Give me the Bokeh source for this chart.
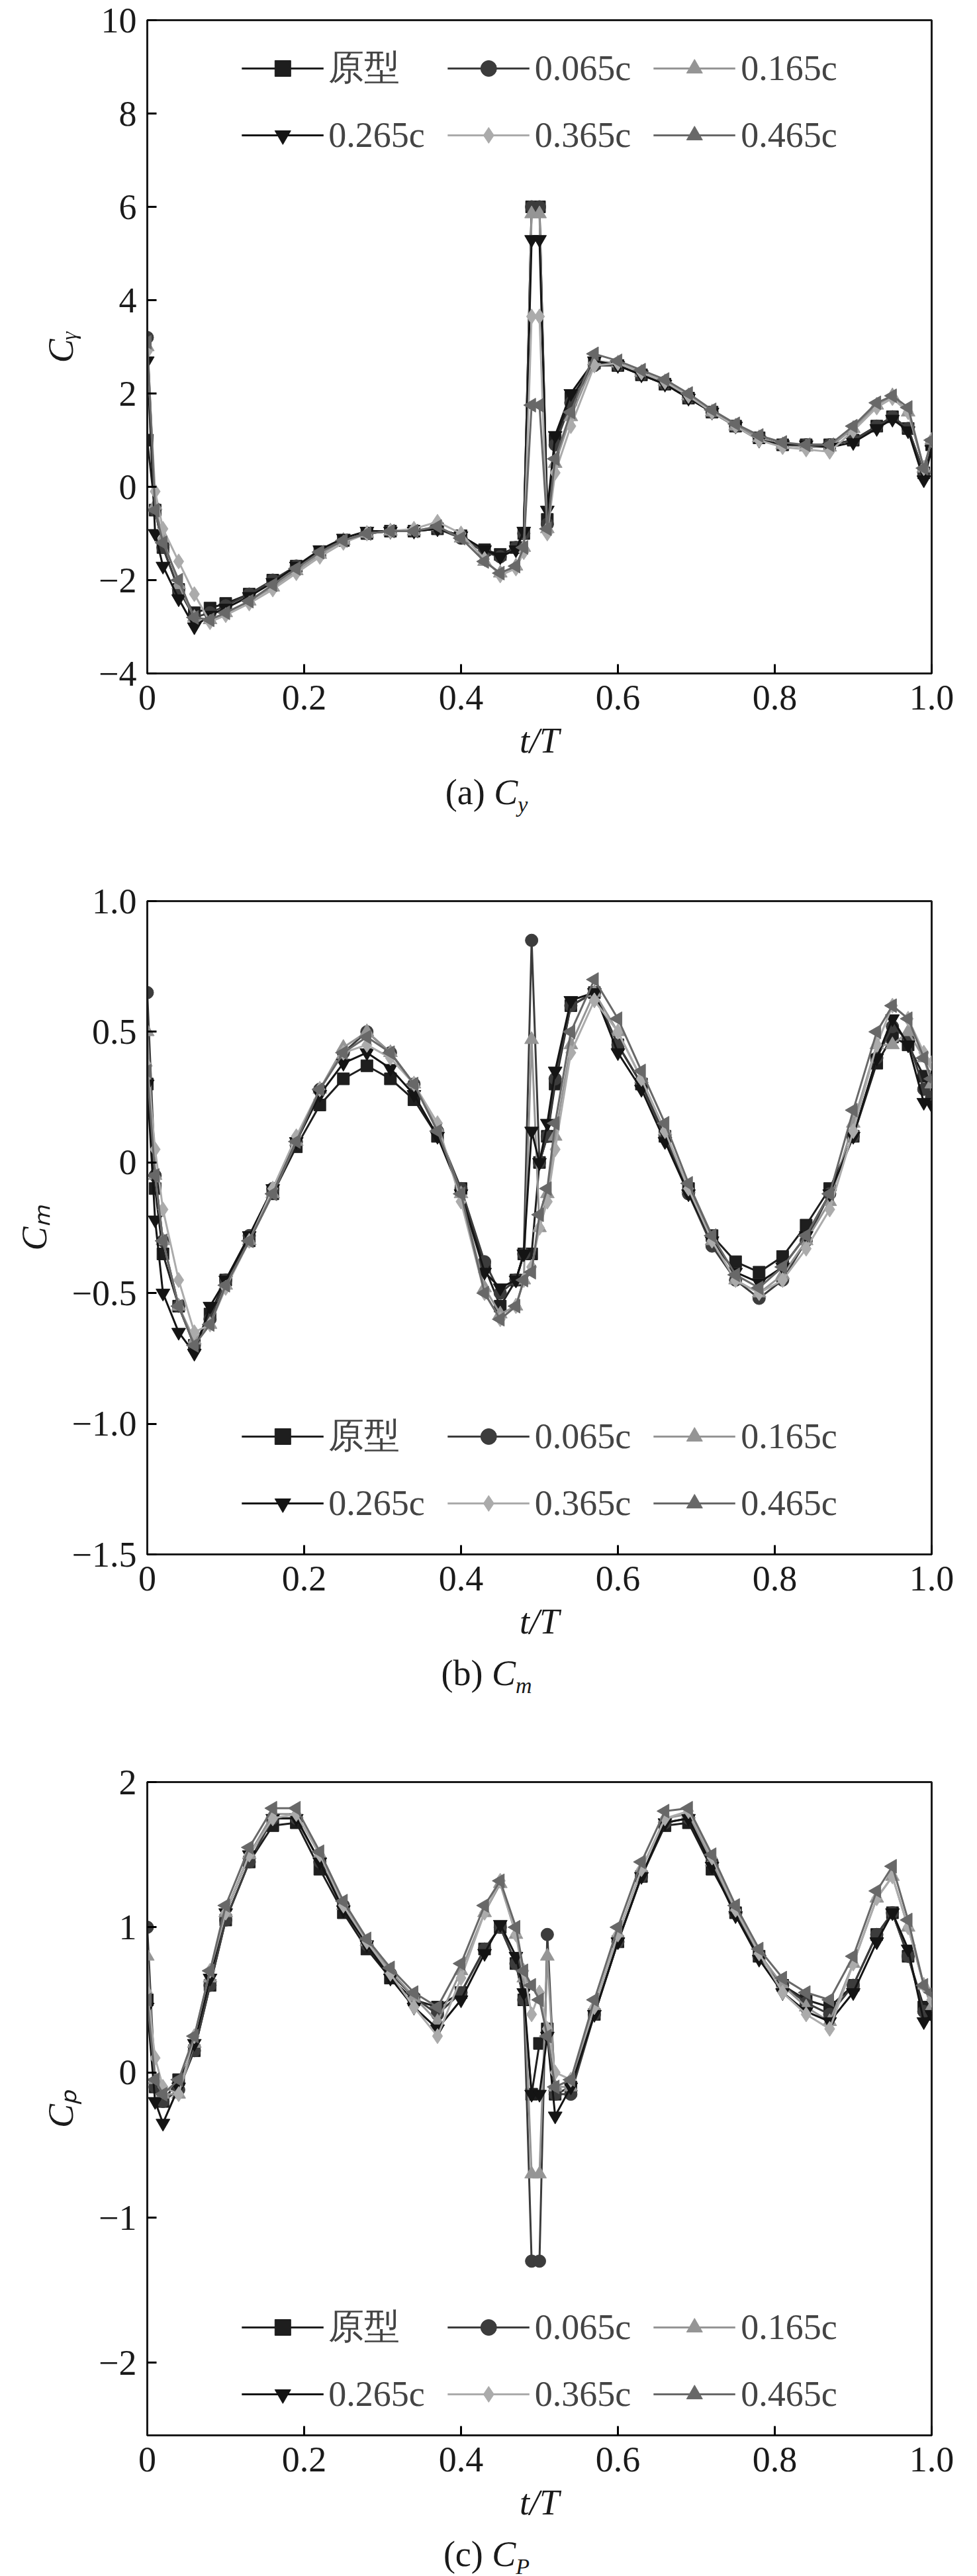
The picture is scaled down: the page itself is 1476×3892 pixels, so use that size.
from math import pi
from bokeh.plotting import figure
from bokeh.layouts import column, Spacer
from bokeh.models import FixedTicker, Range1d, Div
from bokeh.embed import file_html
from bokeh.resources import INLINE

# t/T sample points shared by all series
t = [0, 0.01, 0.02, 0.04, 0.06, 0.08, 0.10, 0.13, 0.16, 0.19, 0.22, 0.25, 0.28, 0.31,
     0.34, 0.37, 0.40, 0.43, 0.45, 0.47, 0.48, 0.49, 0.50, 0.51, 0.52, 0.54, 0.57, 0.60,
     0.63, 0.66, 0.69, 0.72, 0.75, 0.78, 0.81, 0.84, 0.87, 0.90, 0.93, 0.95, 0.97, 0.99, 1.0]

names = ["原型", "0.065c", "0.165c", "0.265c", "0.365c", "0.465c"]

# (a) Cy
cy_proto = [1.0, -0.5, -1.3, -2.2, -2.7, -2.6, -2.5, -2.3, -2.0, -1.7, -1.4, -1.15, -1.0, -0.95, -0.95, -0.9, -1.05, -1.35, -1.45, -1.3, -1.0, 6.0, 6.0, -0.7, 1.0, 1.9, 2.65, 2.6, 2.4, 2.2, 1.9, 1.6, 1.3, 1.05, 0.9, 0.9, 0.9, 1.0, 1.3, 1.5, 1.25, 0.3, 0.9]
cy_065 = [3.2, -0.5, -1.3, -2.2, -2.8, -2.7, -2.55, -2.3, -2.0, -1.7, -1.4, -1.15, -1.0, -0.95, -0.95, -0.9, -1.1, -1.4, -1.5, -1.3, -1.0, 6.0, 6.0, -0.8, 0.9, 1.8, 2.6, 2.6, 2.4, 2.2, 1.9, 1.6, 1.3, 1.05, 0.9, 0.9, 0.9, 1.0, 1.3, 1.5, 1.25, 0.3, 0.9]
cy_165 = [3.0, -0.4, -1.1, -2.1, -2.8, -2.85, -2.7, -2.45, -2.15, -1.8, -1.45, -1.15, -1.0, -0.95, -0.95, -0.85, -1.1, -1.6, -1.85, -1.7, -1.3, 5.85, 5.85, -0.9, 0.5, 1.5, 2.7, 2.65, 2.45, 2.25, 1.95, 1.6, 1.3, 1.05, 0.9, 0.85, 0.85, 1.25, 1.75, 1.95, 1.6, 0.4, 1.0]
cy_265 = [2.7, -1.0, -1.7, -2.4, -3.0, -2.75, -2.6, -2.35, -2.05, -1.7, -1.35, -1.1, -0.95, -0.95, -0.95, -0.9, -1.05, -1.35, -1.5, -1.35, -0.95, 5.3, 5.3, -0.5, 1.1, 2.0, 2.7, 2.6, 2.4, 2.2, 1.9, 1.6, 1.3, 1.0, 0.9, 0.9, 0.85, 0.95, 1.25, 1.45, 1.2, 0.15, 0.8]
cy_365 = [2.9, -0.1, -0.9, -1.6, -2.3, -2.9, -2.75, -2.5, -2.2, -1.85, -1.5, -1.2, -1.0, -0.95, -0.9, -0.75, -1.0, -1.55, -1.9, -1.75, -1.4, 3.65, 3.65, -1.0, 0.3, 1.3, 2.6, 2.65, 2.45, 2.25, 1.95, 1.6, 1.3, 1.0, 0.85, 0.8, 0.75, 1.2, 1.7, 1.9, 1.6, 0.4, 1.0]
cy_465 = [3.1, -0.5, -1.2, -2.0, -2.8, -2.85, -2.7, -2.45, -2.1, -1.75, -1.4, -1.15, -1.0, -0.95, -0.95, -0.85, -1.1, -1.6, -1.85, -1.7, -1.3, 1.75, 1.75, -0.9, 0.6, 1.6, 2.85, 2.7, 2.5, 2.3, 2.0, 1.65, 1.35, 1.1, 0.95, 0.9, 0.9, 1.3, 1.8, 1.95, 1.7, 0.4, 1.0]

# (b) Cm
cm_proto = [0.3, -0.1, -0.35, -0.55, -0.7, -0.58, -0.45, -0.3, -0.12, 0.06, 0.22, 0.32, 0.37, 0.32, 0.24, 0.1, -0.1, -0.4, -0.55, -0.45, -0.35, -0.35, 0.0, 0.1, 0.3, 0.6, 0.65, 0.45, 0.3, 0.1, -0.1, -0.28, -0.38, -0.42, -0.36, -0.24, -0.1, 0.1, 0.38, 0.48, 0.45, 0.33, 0.25]
cm_065 = [0.65, -0.05, -0.3, -0.55, -0.7, -0.6, -0.45, -0.28, -0.1, 0.08, 0.28, 0.42, 0.5, 0.42, 0.3, 0.12, -0.1, -0.38, -0.5, -0.45, -0.35, 0.85, 0.0, 0.1, 0.32, 0.6, 0.65, 0.45, 0.3, 0.1, -0.12, -0.32, -0.45, -0.52, -0.45, -0.3, -0.12, 0.1, 0.4, 0.52, 0.47, 0.28, 0.25]
cm_165 = [0.5, -0.05, -0.3, -0.55, -0.68, -0.62, -0.47, -0.3, -0.12, 0.08, 0.28, 0.44, 0.5, 0.42, 0.3, 0.13, -0.12, -0.48, -0.58, -0.55, -0.45, 0.47, -0.25, -0.12, 0.1, 0.45, 0.65, 0.5, 0.32, 0.12, -0.1, -0.3, -0.45, -0.5, -0.43, -0.3, -0.15, 0.15, 0.45, 0.45, 0.5, 0.4, 0.3]
cm_265 = [0.3, -0.22, -0.5, -0.65, -0.73, -0.55, -0.45, -0.28, -0.1, 0.08, 0.26, 0.38, 0.42, 0.36, 0.26, 0.1, -0.12, -0.42, -0.48, -0.45, -0.35, 0.12, 0.0, 0.15, 0.35, 0.62, 0.65, 0.42, 0.28, 0.08, -0.12, -0.3, -0.42, -0.46, -0.4, -0.28, -0.12, 0.1, 0.4, 0.55, 0.45, 0.23, 0.22]
cm_365 = [0.37, 0.05, -0.18, -0.45, -0.65, -0.62, -0.48, -0.3, -0.1, 0.1, 0.28, 0.42, 0.45, 0.4, 0.3, 0.15, -0.15, -0.5, -0.6, -0.55, -0.45, -0.4, -0.25, -0.15, 0.05, 0.42, 0.62, 0.5, 0.32, 0.12, -0.1, -0.3, -0.45, -0.5, -0.45, -0.33, -0.18, 0.12, 0.45, 0.6, 0.55, 0.42, 0.38]
cm_465 = [0.35, -0.05, -0.3, -0.55, -0.7, -0.62, -0.47, -0.3, -0.12, 0.08, 0.28, 0.42, 0.48, 0.42, 0.3, 0.12, -0.12, -0.5, -0.6, -0.55, -0.45, -0.42, -0.2, -0.1, 0.15, 0.5, 0.7, 0.55, 0.35, 0.15, -0.08, -0.28, -0.43, -0.48, -0.4, -0.28, -0.12, 0.2, 0.5, 0.6, 0.55, 0.4, 0.32]

# (c) Cp
cp_proto = [0.5, -0.1, -0.2, -0.05, 0.15, 0.6, 1.05, 1.45, 1.7, 1.72, 1.4, 1.1, 0.85, 0.65, 0.5, 0.45, 0.55, 0.85, 1.0, 0.75, 0.5, -0.15, 0.2, 0.3, -0.15, -0.1, 0.4, 0.9, 1.35, 1.7, 1.72, 1.4, 1.1, 0.8, 0.6, 0.5, 0.45, 0.6, 0.95, 1.1, 0.8, 0.45, 0.4]
cp_065 = [1.0, -0.1, -0.2, -0.12, 0.15, 0.6, 1.05, 1.45, 1.75, 1.75, 1.45, 1.15, 0.88, 0.68, 0.52, 0.4, 0.55, 0.85, 1.0, 0.75, 0.5, -1.3, -1.3, 0.95, -0.15, -0.15, 0.4, 0.9, 1.35, 1.72, 1.75, 1.45, 1.1, 0.8, 0.6, 0.48, 0.4, 0.6, 0.95, 1.1, 0.8, 0.42, 0.4]
cp_165 = [0.8, -0.05, -0.15, -0.15, 0.2, 0.65, 1.1, 1.5, 1.78, 1.78, 1.5, 1.15, 0.9, 0.7, 0.52, 0.35, 0.7, 1.1, 1.3, 0.95, 0.65, -0.7, -0.7, 0.8, -0.1, -0.1, 0.45, 0.95, 1.4, 1.75, 1.78, 1.45, 1.12, 0.82, 0.6, 0.45, 0.35, 0.75, 1.2, 1.35, 1.0, 0.6, 0.45]
cp_265 = [0.45, -0.2, -0.35, -0.1, 0.2, 0.65, 1.1, 1.5, 1.75, 1.75, 1.45, 1.12, 0.88, 0.65, 0.45, 0.3, 0.5, 0.82, 1.02, 0.8, 0.55, -0.15, -0.15, 0.25, -0.3, -0.1, 0.4, 0.9, 1.35, 1.72, 1.75, 1.42, 1.08, 0.78, 0.55, 0.42, 0.35, 0.55, 0.9, 1.1, 0.85, 0.35, 0.4]
cp_365 = [0.55, 0.1, -0.1, -0.15, 0.25, 0.7, 1.1, 1.5, 1.75, 1.78, 1.5, 1.15, 0.9, 0.68, 0.45, 0.25, 0.65, 1.1, 1.32, 0.95, 0.7, 0.4, 0.55, 0.3, 0.0, -0.05, 0.45, 0.95, 1.4, 1.75, 1.8, 1.48, 1.12, 0.82, 0.55, 0.4, 0.3, 0.75, 1.2, 1.35, 1.0, 0.6, 0.5]
cp_465 = [0.5, -0.05, -0.15, -0.05, 0.25, 0.7, 1.15, 1.55, 1.82, 1.82, 1.52, 1.18, 0.92, 0.72, 0.55, 0.45, 0.75, 1.15, 1.32, 1.0, 0.7, 0.6, 0.5, 0.25, -0.1, -0.05, 0.5, 1.0, 1.45, 1.8, 1.82, 1.5, 1.15, 0.85, 0.65, 0.55, 0.5, 0.8, 1.25, 1.42, 1.05, 0.6, 0.55]

x_ticks = [0, 0.2, 0.4, 0.6, 0.8, 1.0]
x_tick_labels = ["0", "0.2", "0.4", "0.6", "0.8", "1.0"]

colors = ["#1e1e1e", "#3c3c3c", "#959595", "#141414", "#ababab", "#686868"]
markers = ["square", "circle", "triangle", "inverted_triangle", "diamond", "triangle"]
angles = [0, 0, 0, 0, 0, pi / 2]
sizes = [18, 19, 21, 21, 23, 21]

SERIF = "Liberation Serif"
FS = "54px"


def panel(series, y0, y1, yticks, ylabels, ylab, legend_pos, legend_margin, top=24):
    p = figure(width=1460, height=1137 + top, x_range=Range1d(0, 1), y_range=Range1d(y0, y1),
               output_backend="svg", toolbar_location=None,
               min_border_left=222, min_border_right=53, min_border_top=top,
               min_border_bottom=150)
    p.grid.visible = False
    p.outline_line_color = "#1a1a1a"
    p.outline_line_width = 3
    for ax in (p.xaxis, p.yaxis):
        ax.axis_line_width = 3
        ax.axis_line_color = "#1a1a1a"
        ax.major_tick_in = 14
        ax.major_tick_out = 0
        ax.major_tick_line_width = 3
        ax.minor_tick_line_color = None
        ax.major_label_text_font = SERIF
        ax.major_label_text_font_size = FS
        ax.major_label_text_color = "#1a1a1a"
        ax.axis_label_text_font = SERIF
        ax.axis_label_text_font_style = "italic"
        ax.axis_label_text_font_size = FS
        ax.axis_label_text_color = "#1a1a1a"
    p.xaxis.ticker = FixedTicker(ticks=x_ticks)
    p.xaxis.major_label_overrides = dict(zip(x_ticks, x_tick_labels))
    p.xaxis.major_label_standoff = 18
    p.xaxis.axis_label = "t/T"
    p.xaxis.axis_label_standoff = 14
    p.yaxis.ticker = FixedTicker(ticks=yticks)
    p.yaxis.major_label_overrides = dict(zip(yticks, ylabels))
    p.yaxis.major_label_standoff = 16
    p.yaxis.axis_label = ylab
    p.yaxis.axis_label_standoff = 24

    for name, ys, c, m, a, s in zip(names, series, colors, markers, angles, sizes):
        p.line(t, ys, line_color=c, line_width=3, legend_label=name)
        p.scatter(t, ys, marker=m, angle=a, size=s, fill_color=c, line_color=c, legend_label=name)

    lg = p.legend[0]
    lg.location = legend_pos
    lg.orientation = "horizontal"
    lg.ncols = 3
    lg.border_line_color = None
    lg.background_fill_alpha = 0
    lg.label_text_font = SERIF
    lg.label_text_font_size = FS
    lg.glyph_width = 124
    lg.glyph_height = 60
    lg.label_height = 60
    lg.label_standoff = 8
    lg.spacing = 34
    lg.padding = 0
    lg.margin = legend_margin
    return p


def caption(letter, sub):
    return Div(text=f"({letter}) <i>C</i><sub style='font-size:34px'><i>{sub}</i></sub>",
               width=1460, height=62,
               styles={"font-family": SERIF, "font-size": FS, "color": "#1a1a1a",
                       "text-align": "center", "padding-left": "168px", "line-height": "50px",
                       "width": "1292px"})


pa = panel([cy_proto, cy_065, cy_165, cy_265, cy_365, cy_465], -4, 10,
           [-4, -2, 0, 2, 4, 6, 8, 10], ["\u22124", "\u22122", "0", "2", "4", "6", "8", "10"],
           "C\u1d67", "top_center", 36, top=30)
pb = panel([cm_proto, cm_065, cm_165, cm_265, cm_365, cm_465], -1.5, 1.0,
           [-1.5, -1.0, -0.5, 0, 0.5, 1.0], ["\u22121.5", "\u22121.0", "\u22120.5", "0", "0.5", "1.0"],
           "C\u2098", "bottom_center", 46, top=34)
pc = panel([cp_proto, cp_065, cp_165, cp_265, cp_365, cp_465], -2.5, 2.0,
           [-2, -1, 0, 1, 2], ["\u22122", "\u22121", "0", "1", "2"],
           "C\u209a", "bottom_center", 31, top=34)

layout = column(pa, caption("a", "y"), Spacer(height=88),
                pb, caption("b", "m"), Spacer(height=88),
                pc, caption("c", "P"), spacing=0)
open("out.html", "w").write(file_html(layout, INLINE))
